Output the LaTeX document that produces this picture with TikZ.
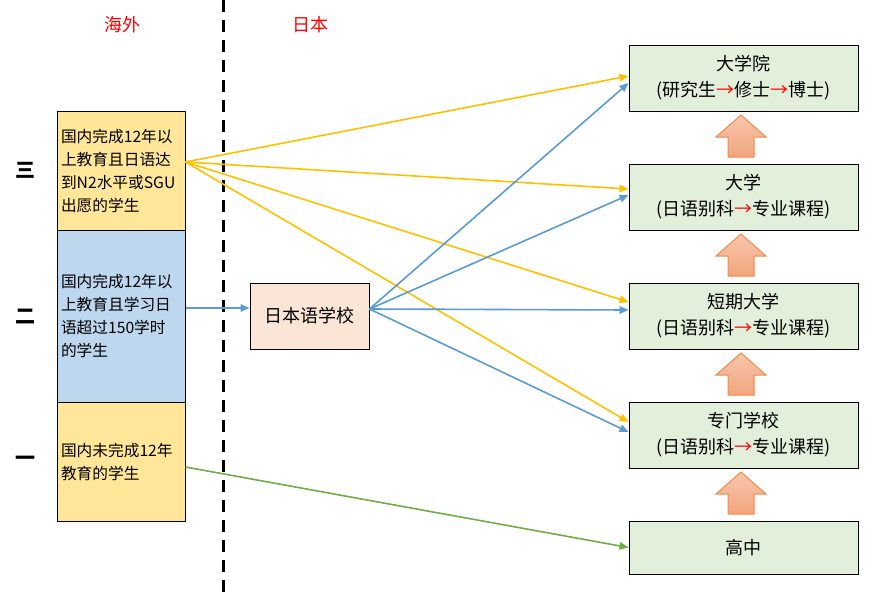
\documentclass[tikz,border=0pt]{standalone}
\usepackage{fontspec}
\setmainfont{Noto Sans CJK SC}
\usetikzlibrary{arrows.meta,calc}

\definecolor{boxyellow}{HTML}{FFE699}
\definecolor{boxblue}{HTML}{BDD7EE}
\definecolor{boxpeach}{HTML}{FBE5D6}
\definecolor{boxgreen}{HTML}{E2EFDA}
\definecolor{lineyellow}{HTML}{FFC000}
\definecolor{lineblue}{HTML}{5B9BD5}
\definecolor{linegreen}{HTML}{70AD47}
\definecolor{arrowtop}{HTML}{F9C6AC}
\definecolor{arrowbottom}{HTML}{F2A57E}
\definecolor{arrowedge}{HTML}{F08A4B}

\tikzstyle{origin} = [draw,line width=1pt,inner xsep=4pt,inner ysep=0pt,text width=120pt,align=left,font=\fontsize{15.7}{23}\selectfont]
\tikzstyle{school} = [draw,line width=1pt,fill=boxgreen,inner sep=0pt,minimum width=229pt,align=center,font=\fontsize{18}{26}\selectfont]
\tikzstyle{level} = [font=\fontsize{20}{20}\selectfont\bfseries]
\tikzstyle{region} = [text=red,font=\fontsize{18}{18}\selectfont]
\tikzstyle{route} = [line width=1.6pt,-{Triangle[length=9pt,width=7.5pt]}]
\tikzstyle{uparrow} = [draw=arrowedge,line width=1pt,top color=arrowtop,bottom color=arrowbottom]
\newcommand{\ra}{\textcolor{red}{→}}

\begin{document}
\begin{tikzpicture}[x=1pt,y=-1pt]
	\useasboundingbox (0,0) rectangle (873,595);
	\node[region] (abroad) at (122,25) {海外};
	\node[region] (japan) at (310,25) {日本};
	\draw[line width=3pt,dash pattern=on 12pt off 8pt] (223,0) -- (223,595);

	\node[level] (l3) at (25,170) {三};
	\node[level] (l2) at (25,317) {二};
	\node[level] (l1) at (25,461) {一};

	\node[origin,fill=boxyellow,minimum height=119pt] (lev3) at (121,170.5) {国内完成12年以\\上教育且日语达\\到N2水平或SGU\\出愿的学生};
	\node[origin,fill=boxblue,minimum height=172pt] (lev2) at (121,316) {国内完成12年以\\上教育且学习日\\语超过150学时\\的学生};
	\node[origin,fill=boxyellow,minimum height=119pt] (lev1) at (121,461.5) {国内未完成12年\\教育的学生};

	\node[draw,line width=1pt,fill=boxpeach,minimum width=119pt,minimum height=66pt,font=\fontsize{18}{18}\selectfont] (jls) at (309.5,316) {日本语学校};

	\node[school,minimum height=66pt] (grad) at (743.5,78) {大学院\\(研究生\ra 修士\ra 博士)};
	\node[school,minimum height=66pt] (univ) at (743.5,197) {大学\\(日语别科\ra 专业课程)};
	\node[school,minimum height=66pt] (junior) at (743.5,316) {短期大学\\(日语别科\ra 专业课程)};
	\node[school,minimum height=66pt] (senmon) at (743.5,435) {专门学校\\(日语别科\ra 专业课程)};
	\node[school,minimum height=53pt] (high) at (743.5,547.5) {高中};

	\foreach \t in {115,234,353,472}
		\draw[uparrow] (728,\t+42) -- (728,\t+22) -- (716,\t+22) -- (741,\t) -- (766,\t+22) -- (754,\t+22) -- (754,\t+42) -- cycle;

	\coordinate (s3) at ([yshift=8.5pt]lev3.east);
	\coordinate (s2) at ([yshift=8pt]lev2.east);
	\coordinate (s1) at ([yshift=-5.5pt]lev1.east);
	\coordinate (sj) at ([yshift=7pt]jls.east);

	\draw[route,lineyellow] (s3) -- ([yshift=2pt]grad.west);
	\draw[route,lineyellow] (s3) -- ([yshift=8pt]univ.west);
	\draw[route,lineyellow] (s3) -- ([yshift=14pt]junior.west);
	\draw[route,lineyellow] (s3) -- ([yshift=13pt]senmon.west);

	\draw[route,lineblue] (s2) -- ([yshift=8pt]jls.west);
	\draw[route,lineblue] (sj) -- ([yshift=-5pt]grad.west);
	\draw[route,lineblue] (sj) -- ([yshift=2pt]univ.west);
	\draw[route,lineblue] (sj) -- ([yshift=6pt]junior.west);
	\draw[route,lineblue] (sj) -- ([yshift=3pt]senmon.west);

	\draw[route,linegreen] (s1) -- (high.west);
\end{tikzpicture}
\end{document}
